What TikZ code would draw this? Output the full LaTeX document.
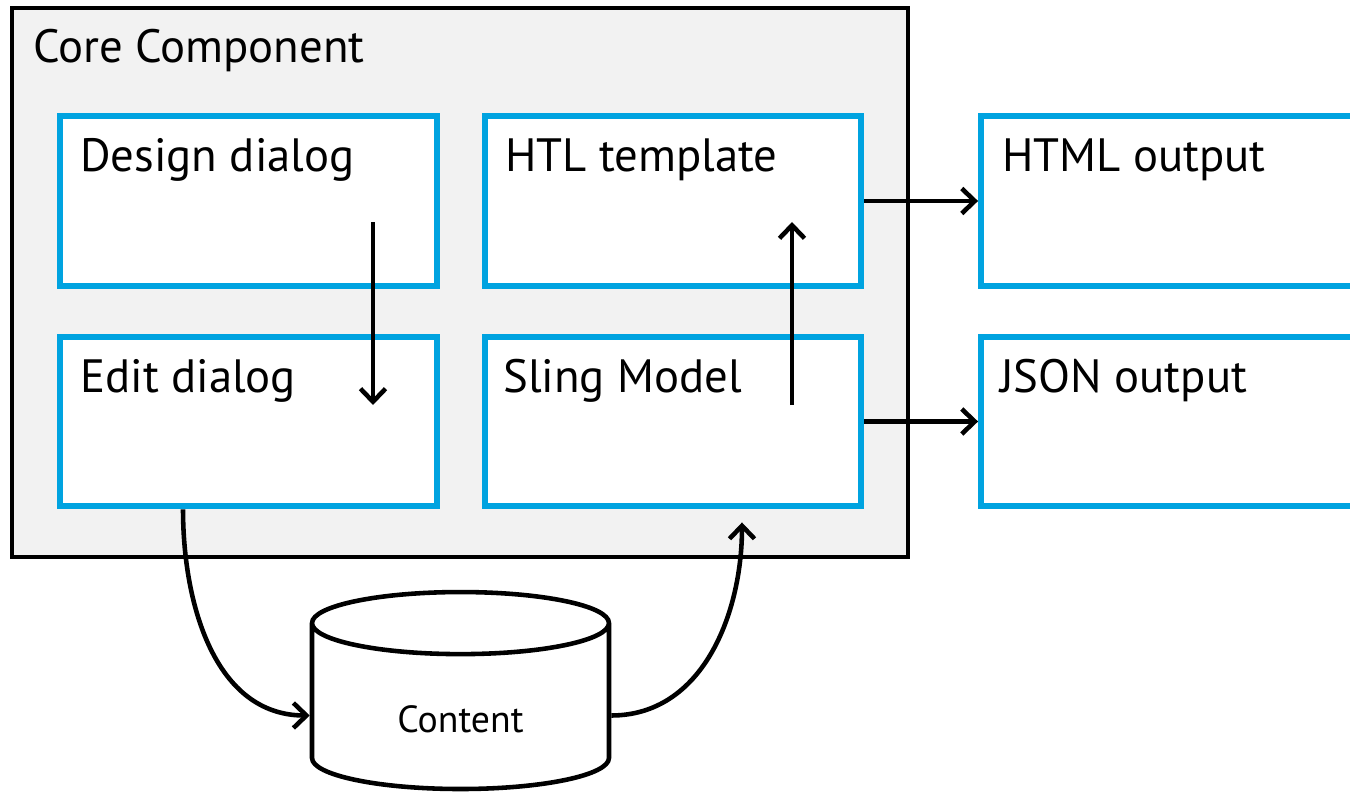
\documentclass[tikz,border=0pt]{standalone}
\usepackage{fontspec}
\setmainfont{PT Sans}
\usetikzlibrary{arrows.meta,shapes.geometric}
\definecolor{partblue}{RGB}{0,163,224}
\definecolor{coregray}{RGB}{242,242,242}

\begin{document}
\begin{tikzpicture}[x=0.02cm,y=-0.02cm,
  >={Straight Barb[length=0.26cm,width=0.5cm]},
  part/.style={draw=partblue,line width=3.4pt,fill=white,
    minimum width=7.54cm,minimum height=3.4cm,inner sep=0pt},
  lbl/.style={anchor=base west,inner sep=0pt,font=\fontsize{26.6}{30}\selectfont},
  flow/.style={->,line width=2.6pt}]
  \useasboundingbox (0,0) rectangle (1350,794);
  \clip (0,0) rectangle (1350,794);

  % core component frame
  \draw[line width=2.8pt,fill=coregray] (12,8) rectangle (908,557);
  \node[lbl] (corelbl) at (33,63) {Core Component};

  % parts of the component
  \node[part] (design) at (248.5,201) {};
  \node[part] (htl) at (673,201) {};
  \node[part] (edit) at (248.5,421.5) {};
  \node[part] (sling) at (673,421.5) {};
  \node[lbl] (designlbl) at (80,172) {Design dialog};
  \node[lbl] (htllbl) at (505,172) {HTL template};
  \node[lbl] (editlbl) at (80,392) {Edit dialog};
  \node[lbl] (slinglbl) at (503,392) {Sling Model};

  % outputs
  \node[part,minimum width=8.38cm] (html) at (1190.5,201) {};
  \node[part,minimum width=8.38cm] (json) at (1190.5,421.5) {};
  \node[lbl] (htmllbl) at (1002,172) {HTML output};
  \node[lbl] (jsonlbl) at (1000,392) {JSON output};

  % repository
  \node[draw,line width=2.6pt,fill=white,shape=cylinder,shape border rotate=90,
    aspect=0.45,minimum width=5.94cm,minimum height=3.94cm,
    text height=0.96cm,text depth=0.1cm,
    font=\fontsize{21.5}{24}\selectfont] (content) at (460.5,711.5) {Content};

  % flows
  \coordinate (designout) at (373,222);
  \coordinate (editin) at (373,405);
  \coordinate (slingout) at (792,405);
  \coordinate (htlin) at (792,222);
  \draw[flow] (designout) -- (editin);
  \draw[flow] (slingout) -- (htlin);
  \draw[flow] (htl.east) -- (html.west);
  \draw[flow] (sling.east) -- (json.west);
  \draw[flow] ([xshift=-1.31cm]edit.south) to[out=-90,in=180] ([yshift=-0.08cm]content.west);
  \draw[flow] ([yshift=-0.08cm]content.east) to[out=0,in=-90] ([xshift=1.38cm,yshift=-0.26cm]sling.south);
\end{tikzpicture}
\end{document}
